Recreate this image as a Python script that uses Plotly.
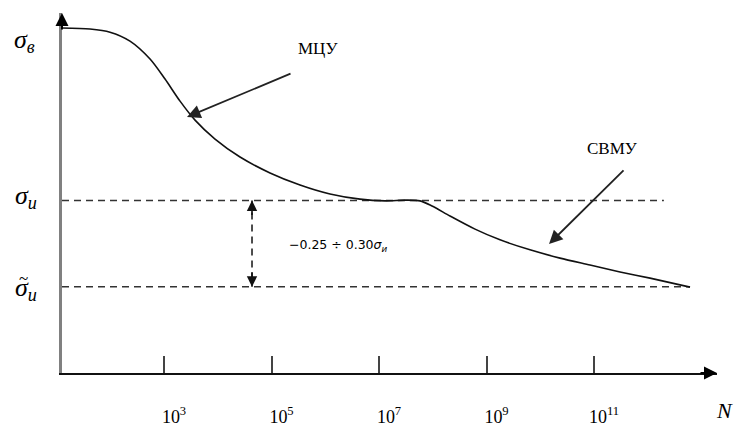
import plotly.graph_objects as go

# ---- data (x = lg N, y = stress relative to sigma_v) ----
lgN = [1.102, 1.623, 1.995, 2.367, 2.740, 3.019, 3.298, 3.577, 3.949, 4.414,
       4.972, 5.530, 6.088, 6.647, 7.112, 7.484, 7.763, 7.986, 8.321, 8.786,
       9.251, 9.809, 10.367, 10.926, 11.484, 12.042, 12.786]
stress = [1.000, 0.997, 0.988, 0.962, 0.910, 0.852, 0.788, 0.733, 0.678, 0.626,
          0.580, 0.545, 0.519, 0.504, 0.499, 0.501, 0.499, 0.484, 0.455, 0.417,
          0.386, 0.357, 0.333, 0.313, 0.293, 0.275, 0.249]

sigma_u = 0.50          # upper endurance level
sigma_u_tilde = 0.25    # lower level
upper_line_end = 12.30
lower_line_end = 12.786
gap_x = 4.637           # position of the double arrow

tick_vals = [3, 5, 7, 9, 11]
tick_text = ["10<sup>3</sup>", "10<sup>5</sup>", "10<sup>7</sup>", "10<sup>9</sup>", "10<sup>11</sup>"]

x_range = [1.102, 13.288]
y_range = [0.0, 1.0435]

SERIF = "Liberation Serif"
SANS = "DejaVu Sans"

fig = go.Figure()

# dashed levels
fig.add_trace(go.Scatter(x=[x_range[0], upper_line_end], y=[sigma_u, sigma_u], mode="lines",
                         line=dict(color="#333333", width=1.6, dash="7px,5px"), hoverinfo="skip"))
fig.add_trace(go.Scatter(x=[x_range[0], lower_line_end], y=[sigma_u_tilde, sigma_u_tilde], mode="lines",
                         line=dict(color="#333333", width=1.6, dash="7px,5px"), hoverinfo="skip"))
# vertical dashed double arrow
fig.add_trace(go.Scatter(x=[gap_x, gap_x], y=[sigma_u, sigma_u_tilde], mode="lines",
                         line=dict(color="#222222", width=1.6, dash="7px,5px"), hoverinfo="skip"))
# fatigue curve
fig.add_trace(go.Scatter(x=lgN, y=stress, mode="lines",
                         line=dict(color="#111111", width=1.6, shape="spline", smoothing=0.8),
                         hoverinfo="skip"))

def px_x(px):
    return (px - 62) / 655.0

def px_y(py):
    return (373 - py) / 360.0

ann = []
# axis arrowheads
ann.append(dict(xref="paper", yref="paper", x=0, y=1, ax=0, ay=18, text="", showarrow=True,
                arrowhead=2, arrowsize=1.3, arrowwidth=2, arrowcolor="#000"))
ann.append(dict(xref="paper", yref="paper", x=1, y=0, ax=-18, ay=0, text="", showarrow=True,
                arrowhead=2, arrowsize=1.3, arrowwidth=2, arrowcolor="#000"))
# double arrow heads
ann.append(dict(x=gap_x, y=sigma_u, ax=0, ay=16, text="", showarrow=True,
                arrowhead=2, arrowsize=1.3, arrowwidth=1.6, arrowcolor="#111"))
ann.append(dict(x=gap_x, y=sigma_u_tilde, ax=0, ay=-16, text="", showarrow=True,
                arrowhead=2, arrowsize=1.3, arrowwidth=1.6, arrowcolor="#111"))
# pointer arrows
ann.append(dict(x=3.428, y=0.742, ax=105, ay=-44, text="", showarrow=True,
                arrowhead=2, arrowsize=1.5, arrowwidth=1.8, arrowcolor="#222"))
ann.append(dict(x=10.163, y=0.374, ax=76, ay=-75, text="", showarrow=True,
                arrowhead=2, arrowsize=1.5, arrowwidth=1.8, arrowcolor="#222"))
# labels
ann.append(dict(x=5.865, y=0.942, text="МЦУ", showarrow=False,
                font=dict(family=SERIF, size=17, color="#000")))
ann.append(dict(x=11.335, y=0.652, text="СВМУ", showarrow=False,
                font=dict(family=SERIF, size=17, color="#000")))
ann.append(dict(x=5.288, y=0.371, xanchor="left", text="−0.25 ÷ 0.30<i>σ<sub>и</sub></i>", showarrow=False,
                font=dict(family=SANS, size=12.5, color="#000")))
ann.append(dict(xref="paper", x=px_x(37), y=0.962, xanchor="right", text="<i>σ<sub>в</sub></i>",
                showarrow=False, font=dict(family=SERIF, size=26, color="#000")))
ann.append(dict(xref="paper", x=px_x(39), y=0.510, xanchor="right", text="<i>σ<sub>и</sub></i>",
                showarrow=False, font=dict(family=SERIF, size=26, color="#000")))
ann.append(dict(xref="paper", x=px_x(39), y=0.243, xanchor="right", text="<i>σ<sub>и</sub></i>",
                showarrow=False, font=dict(family=SERIF, size=26, color="#000")))
ann.append(dict(xref="paper", x=px_x(23), y=0.275, xanchor="center", yanchor="middle", text="~",
                showarrow=False, font=dict(family=SERIF, size=17, color="#000")))
ann.append(dict(xref="paper", yref="paper", x=px_x(724), y=px_y(410),
                xanchor="center", yanchor="middle", text="<i>N</i>",
                showarrow=False, font=dict(family=SERIF, size=22, color="#000")))

fig.update_layout(
    width=739, height=426,
    margin=dict(l=62, r=22, t=13, b=53),
    paper_bgcolor="white", plot_bgcolor="white",
    showlegend=False,
    annotations=ann,
    xaxis=dict(range=x_range, showline=True, linecolor="#111", linewidth=2,
               showgrid=False, zeroline=False, automargin=False,
               ticks="inside", ticklen=17, tickwidth=2, tickcolor="#444",
               tickvals=tick_vals, ticktext=tick_text,
               ticklabelstandoff=26, ticklabelshift=10,
               tickfont=dict(family=SERIF, size=18, color="#000")),
    yaxis=dict(range=y_range, showline=True, linecolor="#808080", linewidth=3,
               showgrid=False, zeroline=False, showticklabels=False, ticks="",
               automargin=False),
)

fig.write_html("out.html", config={"displayModeBar": False},
               post_script="document.body.style.margin='0';document.body.style.overflow='hidden';")
